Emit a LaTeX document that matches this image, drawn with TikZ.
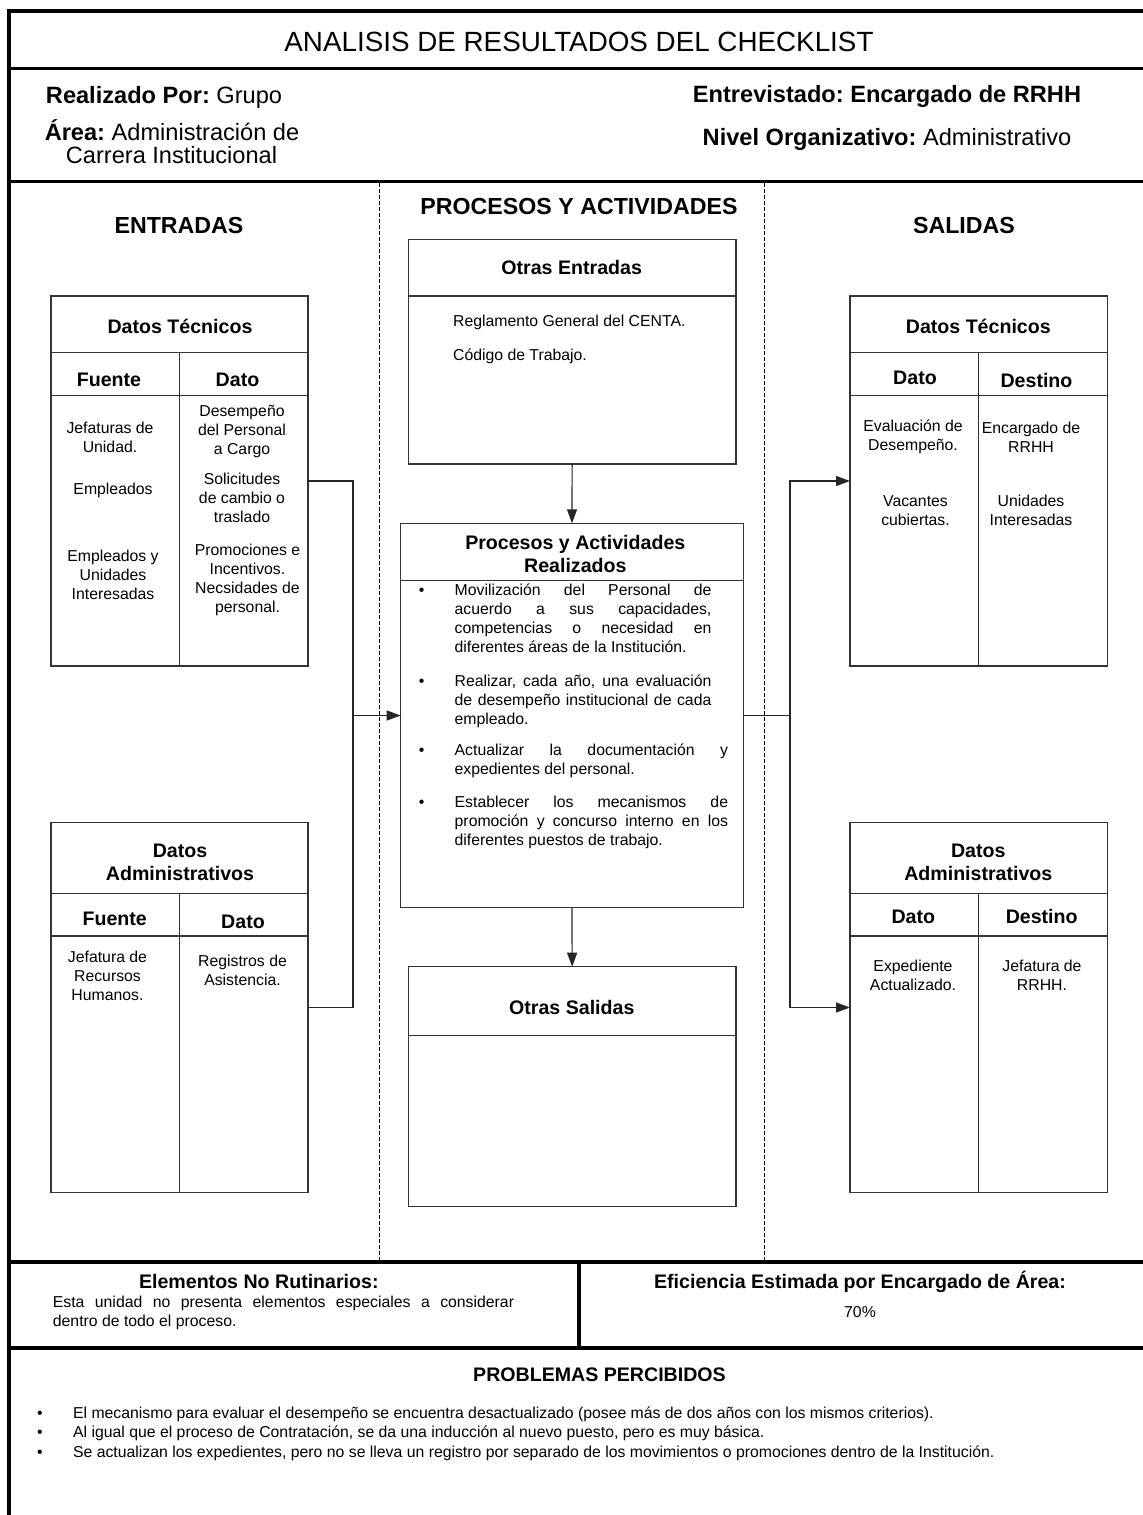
\documentclass[tikz,border=0pt]{standalone}
\usepackage{fontspec}
\setmainfont{Liberation Sans}
\usetikzlibrary{arrows.meta}
% left-aligned block of lines whose baseline is the first line
\newcommand\txtlines[1]{\begin{tabular}[t]{@{}l@{}}#1\end{tabular}}

\begin{document}
\frenchspacing
\begin{tikzpicture}[x=0.5pt,y=-0.5pt,
  frame/.style={line width=1.7pt, draw=black},
  sep/.style={draw=black, dash pattern=on 2pt off 1pt, line width=0.45pt},
  tbl/.style={draw=black!80, line width=0.65pt},
  box/.style={tbl, rectangle, inner sep=0pt, outer sep=0pt},
  conn/.style={draw=black!85, line width=0.6pt},
  arr/.style={conn, -{Triangle[length=7pt,width=5pt]}},
  body/.style={font=\fontsize{7.9}{9.5}\selectfont, align=center, inner sep=0pt},
  itemtxt/.style={font=\fontsize{7.9}{9.5}\selectfont, inner sep=0pt, anchor=base west},
  bul/.style={font=\fontsize{7.9}{9.5}\selectfont, inner sep=0pt, anchor=base},
  hd/.style={font=\bfseries\fontsize{9.8}{11.6}\selectfont, align=center, inner sep=0pt},
  col/.style={font=\bfseries\fontsize{11.6}{14}\selectfont, inner sep=0pt},
  hdr/.style={font=\fontsize{11.8}{12.6}\selectfont, align=center, inner sep=0pt},
]
\clip (0,0) rectangle (1143,1515);
\fill[white] (0,0) rectangle (1143,1515);

% ---------- outer frame ----------
\draw[frame] (9,1530) -- (9,11) -- (1160,11);
\draw[frame] (9,68.5) -- (1160,68.5);
\draw[frame] (9,181.5) -- (1160,181.5);
\draw[frame] (9,1262) -- (1160,1262);
\draw[frame] (9,1348) -- (1160,1348);
\draw[frame] (579,1262) -- (579,1348);

% column separators
\draw[sep] (379.5,183) -- (379.5,1261);
\draw[sep] (764.5,183) -- (764.5,1261);

% ---------- header ----------
\node[font=\fontsize{13.9}{15}\selectfont, inner sep=0pt] (title) at (579,41.5) {ANALISIS DE RESULTADOS DEL CHECKLIST};
\node[hdr] (realiz) at (164,97) {\textbf{Realizado Por:} Grupo};
\node[hdr] (area) at (172,130) {\textbf{Área:} Administración de};
\node[hdr] (carrera) at (171.5,155.5) {Carrera Institucional};
\node[hdr] (entrev) at (887,96.7) {\textbf{Entrevistado: Encargado de RRHH}};
\node[hdr] (nivel) at (887,139) {\textbf{Nivel Organizativo:} Administrativo};

% ---------- column titles ----------
\node[col] (hEnt) at (179,225.5) {ENTRADAS};
\node[col] (hProc) at (579,206.7) {PROCESOS Y ACTIVIDADES};
\node[col] (hSal) at (964,225.5) {SALIDAS};

% ---------- ENTRADAS: Datos Técnicos ----------
\node[box, minimum width=128.5pt, minimum height=185pt] (ltech) at (179.5,481) {};
\draw[tbl] (51,352.7) -- (308,352.7);
\draw[tbl] (51,395.7) -- (308,395.7);
\draw[tbl] (179.3,352.7) -- (179.3,666);
\node[hd] (ltechT) at (180,326.7) {Datos Técnicos};
\node[hd] (ltechF) at (109,380) {Fuente};
\node[hd] (ltechD) at (237.5,380) {Dato};
\node[body] (lf1) at (110,437.3) {Jefaturas de\\Unidad.};
\node[body] (lf2) at (113,490.7) {Empleados};
\node[body] (lf3) at (113,575) {Empleados y\\Unidades\\Interesadas};
\node[body] (ld1) at (242,431) {Desempeño\\del Personal\\a Cargo};
\node[body] (ld2) at (242,498) {Solicitudes\\de cambio o\\traslado};
\node[body] (ld3) at (247.5,579.5) {Promociones e\\Incentivos.\\Necsidades de\\personal.};

% ---------- ENTRADAS: Datos Administrativos ----------
\node[box, minimum width=128.5pt, minimum height=184.8pt] (ladm) at (179.5,1007.5) {};
\draw[tbl] (51,893.3) -- (308,893.3);
\draw[tbl] (51,936) -- (308,936);
\draw[tbl] (179.3,893.3) -- (179.3,1192.3);
\node[hd] (ladmT) at (180,862) {Datos\\Administrativos};
\node[hd] (ladmF) at (114.7,919) {Fuente};
\node[hd] (ladmD) at (243,921.7) {Dato};
\node[body] (laf1) at (107.5,975.7) {Jefatura de\\Recursos\\Humanos.};
\node[body] (lad1) at (242.5,970.5) {Registros de\\Asistencia.};

% ---------- SALIDAS: Datos Técnicos ----------
\node[box, minimum width=128.65pt, minimum height=185pt] (rtech) at (978.65,481) {};
\draw[tbl] (850,352.7) -- (1107.3,352.7);
\draw[tbl] (850,395.7) -- (1107.3,395.7);
\draw[tbl] (978.3,352.7) -- (978.3,666);
\node[hd] (rtechT) at (978.3,326.7) {Datos Técnicos};
\node[hd] (rtechD) at (915,378.3) {Dato};
\node[hd] (rtechS) at (1036.5,380) {Destino};
\node[body] (rd1) at (913,437.2) {Evaluación de\\Desempeño.};
\node[body] (rs1) at (1031,437.2) {Encargado de\\RRHH};
\node[body] (rd2) at (915.5,510.3) {Vacantes\\cubiertas.};
\node[body] (rs2) at (1031,510.3) {Unidades\\Interesadas};

% ---------- SALIDAS: Datos Administrativos ----------
\node[box, minimum width=128.65pt, minimum height=184.8pt] (radm) at (978.65,1007.5) {};
\draw[tbl] (850,893.3) -- (1107.3,893.3);
\draw[tbl] (850,936) -- (1107.3,936);
\draw[tbl] (978.3,893.3) -- (978.3,1192.3);
\node[hd] (radmT) at (978.3,862) {Datos\\Administrativos};
\node[hd] (radmD) at (913.3,916.7) {Dato};
\node[hd] (radmS) at (1041.7,916.7) {Destino};
\node[body] (rad1) at (913,975.2) {Expediente\\Actualizado.};
\node[body] (ras1) at (1042,975.2) {Jefatura de\\RRHH.};

% ---------- Otras Entradas ----------
\node[box, minimum width=163.85pt, minimum height=112.35pt] (oent) at (572.15,351.65) {};
\draw[tbl] (408.3,296) -- (736,296);
\node[hd] (oentT) at (571.7,267.3) {Otras Entradas};
\node[itemtxt] (oe1) at (452.7,326.7) {Reglamento General del CENTA.};
\node[itemtxt] (oe2) at (452.7,360) {Código de Trabajo.};

% ---------- Procesos y Actividades Realizados ----------
\node[box, minimum width=171.3pt, minimum height=192.2pt] (proc) at (572,715.5) {};
\draw[tbl] (400.7,580.5) -- (743.3,580.5);
\node[hd] (procT) at (575.3,554.2) {Procesos y Actividades\\Realizados};
\node[bul] (pb1) at (421.7,595.7) {\textbullet};
\node[itemtxt] (pi1) at (454.3,595.7) {\txtlines{\makebox[128.35pt][s]{Movilización del Personal de}\\
  \makebox[128.35pt][s]{acuerdo a sus capacidades,}\\
  \makebox[128.35pt][s]{competencias o necesidad en}\\
  diferentes áreas de la Institución.}};
\node[bul] (pb2) at (421.7,686.7) {\textbullet};
\node[itemtxt] (pi2) at (454.3,686.7) {\txtlines{\makebox[128.35pt][s]{Realizar, cada año, una evaluación}\\
  \makebox[128.35pt][s]{de desempeño institucional de cada}\\
  empleado.}};
\node[bul] (pb3) at (421.7,755.7) {\textbullet};
\node[itemtxt] (pi3) at (454.3,755.7) {\txtlines{\makebox[136.7pt][s]{Actualizar la documentación y}\\
  expedientes del personal.}};
\node[bul] (pb4) at (421.7,807.3) {\textbullet};
\node[itemtxt] (pi4) at (454.3,807.3) {\txtlines{\makebox[136.7pt][s]{Establecer los mecanismos de}\\
  \makebox[136.7pt][s]{promoción y concurso interno en los}\\
  diferentes puestos de trabajo.}};

% ---------- Otras Salidas ----------
\node[box, minimum width=163.85pt, minimum height=120pt] (osal) at (572.15,1086.7) {};
\draw[tbl] (408.3,1035.7) -- (736,1035.7);
\node[hd] (osalT) at (571.8,1007.3) {Otras Salidas};

% ---------- connectors ----------
\coordinate (jl) at (353,715.5);
\coordinate (jr) at (790,715.5);
\draw[conn] (ltech.east) -| (jl);
\draw[conn] (ladm.east) -| (jl);
\draw[arr] (jl) -- (proc.west);
\draw[conn] (proc.east) -- (jr);
\draw[arr] (jr) |- (rtech.west);
\draw[arr] (jr) |- (radm.west);
\draw[arr] (oent.south) -- (proc.north);
\draw[arr] (proc.south) -- (osal.north);

% ---------- bottom blocks ----------
\node[hd] (elemT) at (258.8,1281.7) {Elementos No Rutinarios:};
\node[itemtxt] (elem) at (52.5,1307.7) {\txtlines{\makebox[230.6pt][s]{Esta unidad no presenta elementos especiales a considerar}\\
  dentro de todo el proceso.}};
\node[hd] (efiT) at (860,1281.7) {Eficiencia Estimada por Encargado de Área:};
\node[body] (efi) at (860,1311.7) {70\%};

\node[hd] (probT) at (599.5,1375) {PROBLEMAS PERCIBIDOS};
\node[bul] (qb1) at (40,1418) {\textbullet};
\node[itemtxt] (q1) at (72.7,1418) {El mecanismo para evaluar el desempeño se encuentra desactualizado (posee más de dos años con los mismos criterios).};
\node[bul] (qb2) at (40,1437.5) {\textbullet};
\node[itemtxt] (q2) at (72.7,1437.5) {Al igual que el proceso de Contratación, se da una inducción al nuevo puesto, pero es muy básica.};
\node[bul] (qb3) at (40,1457) {\textbullet};
\node[itemtxt] (q3) at (72.7,1457) {Se actualizan los expedientes, pero no se lleva un registro por separado de los movimientos o promociones dentro de la Institución.};
\end{tikzpicture}
\end{document}
